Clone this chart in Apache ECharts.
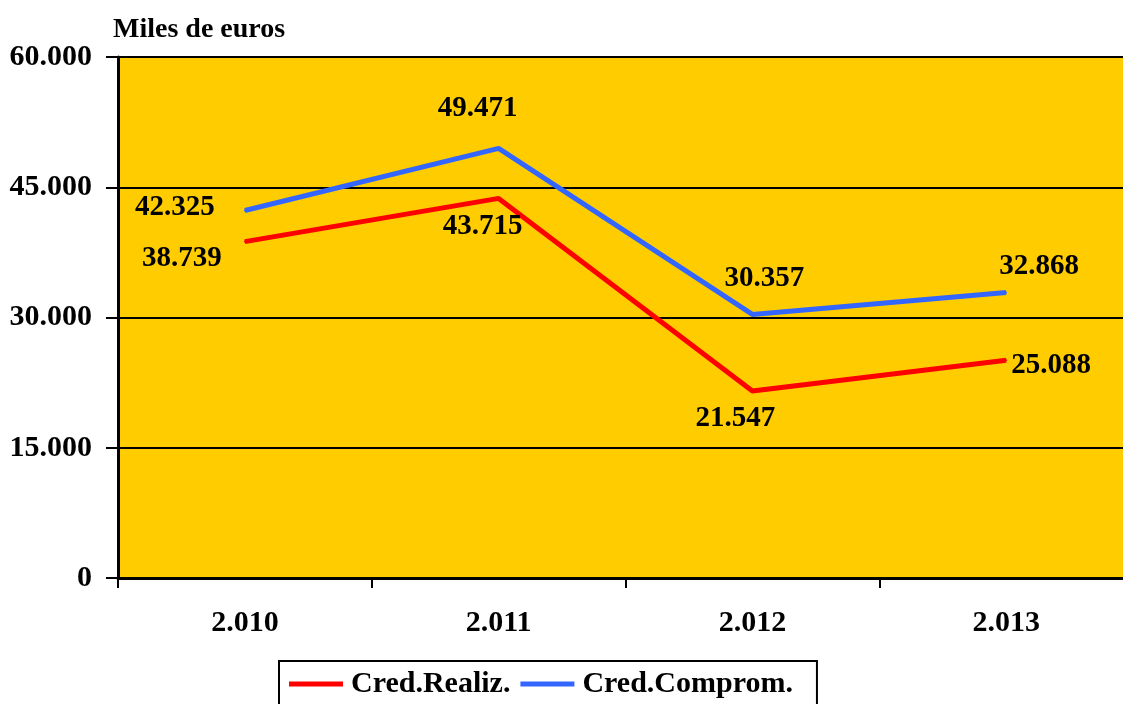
<!DOCTYPE html>
<html>
<head>
<meta charset="utf-8">
<script src="https://cdn.jsdelivr.net/npm/echarts@6/dist/echarts.min.js"></script>
<style>
  html, body { margin: 0; padding: 0; background: #fff; }
  #chart { width: 1123px; height: 704px; }
</style>
</head>
<body>
<div id="chart"></div>
<script>
var years = ["2.010", "2.011", "2.012", "2.013"];
var credRealiz = [38739, 43715, 21547, 25088];
var credComprom = [42325, 49471, 30357, 32868];
var realizOffsets = [[-63, 17], [-16, 28], [-17, 28], [45, 5]];
var compromOffsets = [[-70, -3], [-21, -40], [12, -36], [33, -26]];

var FONT = "Liberation Serif";

// thousands with a dot, like the original sheet
function fmt(v) {
    return String(v).replace(/\B(?=(\d{3})+(?!\d))/g, ".");
}

function withLabels(values, offsets) {
    return values.map(function (v, i) {
        return { value: v, label: { offset: offsets[i] } };
    });
}

var chart = echarts.init(document.getElementById("chart"));

var option = {
    animation: false,
    title: {
        text: "Miles de euros",
        left: 108,
        top: 11,
        textStyle: { fontFamily: FONT, fontWeight: "bold", fontSize: 28, color: "#000" }
    },
    grid: {
        left: 118,
        width: 1015,
        top: 57,
        bottom: 126,
        containLabel: false,
        outerBoundsMode: "none",
        show: true,
        backgroundColor: "#FFCC00",
        borderWidth: 0
    },
    legend: {
        left: 279,
        top: 661,
        icon: "rect",
        itemWidth: 54,
        itemHeight: 5,
        itemGap: 10,
        padding: [8, 24, 8, 10],
        borderColor: "#000",
        borderWidth: 2,
        textStyle: { fontFamily: FONT, fontWeight: "bold", fontSize: 30, color: "#000", padding: [0, 0, 0, 3] },
        data: ["Cred.Realiz.", "Cred.Comprom."]
    },
    xAxis: {
        type: "category",
        data: years,
        axisLine: { lineStyle: { color: "#000", width: 3 } },
        axisTick: { show: true, length: 10, lineStyle: { color: "#000", width: 2 } },
        axisLabel: { margin: 30, fontFamily: FONT, fontWeight: "bold", fontSize: 30, color: "#000" }
    },
    yAxis: {
        type: "value",
        min: 0,
        max: 60000,
        interval: 15000,
        axisLine: { show: true, lineStyle: { color: "#000", width: 3 } },
        axisTick: { show: true, length: 12, lineStyle: { color: "#000", width: 2 } },
        axisLabel: {
            margin: 26,
            fontFamily: FONT, fontWeight: "bold", fontSize: 30, color: "#000",
            formatter: function (v) { return fmt(v); }
        },
        splitLine: { show: true, lineStyle: { color: "#000", width: 2 } }
    },
    series: [
        {
            name: "Cred.Realiz.",
            type: "line",
            data: withLabels(credRealiz, realizOffsets),
            color: "#FF0000",
            symbol: "circle",
            symbolSize: 2,
            lineStyle: { width: 5, color: "#FF0000" },
            label: {
                show: true,
                position: "inside",
                align: "center",
                verticalAlign: "middle",
                fontFamily: FONT, fontWeight: "bold", fontSize: 29, color: "#000",
                formatter: function (p) { return fmt(p.value); }
            }
        },
        {
            name: "Cred.Comprom.",
            type: "line",
            data: withLabels(credComprom, compromOffsets),
            color: "#3366FF",
            symbol: "circle",
            symbolSize: 2,
            lineStyle: { width: 5, color: "#3366FF" },
            label: {
                show: true,
                position: "inside",
                align: "center",
                verticalAlign: "middle",
                fontFamily: FONT, fontWeight: "bold", fontSize: 29, color: "#000",
                formatter: function (p) { return fmt(p.value); }
            }
        }
    ]
};

chart.setOption(option);
</script>
</body>
</html>
